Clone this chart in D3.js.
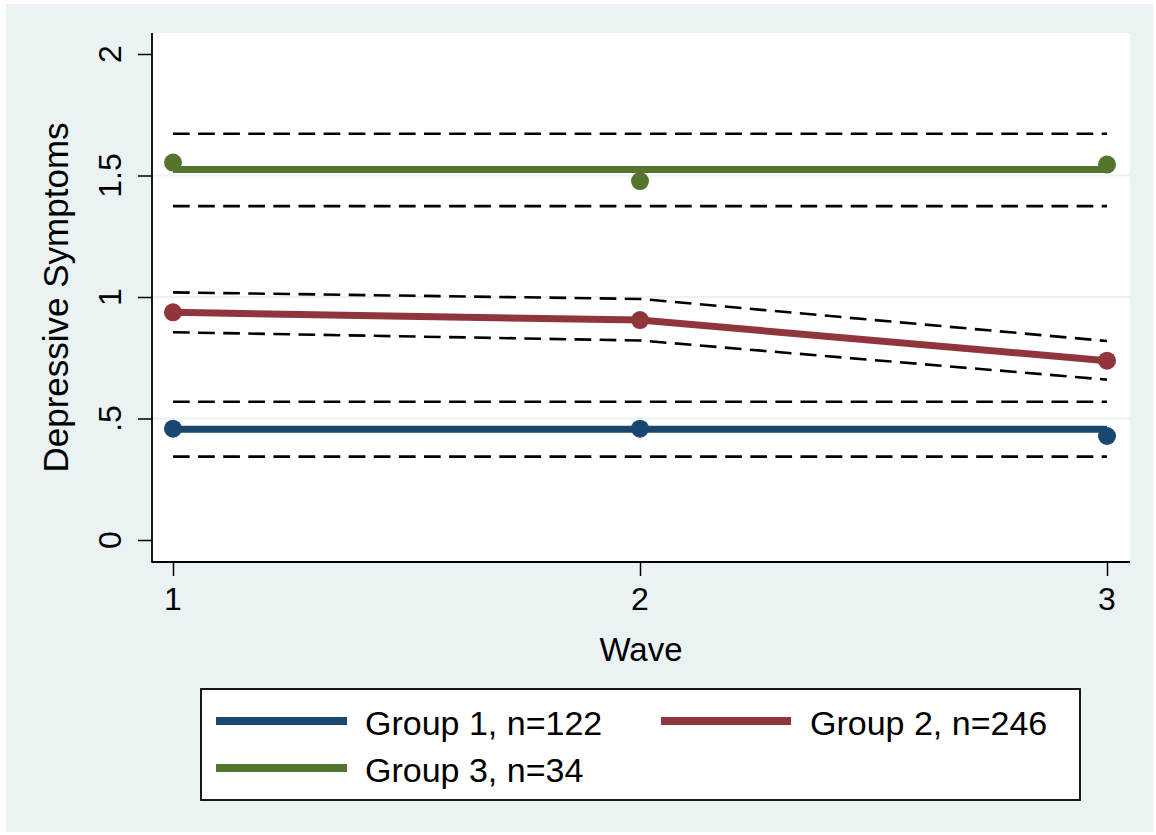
<!DOCTYPE html>
<html>
<head>
<meta charset="utf-8">
<script src="https://cdn.jsdelivr.net/npm/d3@7"></script>
<style>
  html, body { margin: 0; padding: 0; background: #ffffff; }
  svg { display: block; }
  text { font-family: "Liberation Sans", Arial, Helvetica, sans-serif; fill: #000; }
</style>
</head>
<body>
<svg id="chart" width="1156" height="835"></svg>
<script>
// ---- Data ----
const waves = [1, 2, 3];
const yTicks = [0, 0.5, 1, 1.5, 2];
const yTickLabels = ["0", ".5", "1", "1.5", "2"];
const groupNames = ["Group 1, n=122", "Group 2, n=246", "Group 3, n=34"];
const groupColors = ["#1a476f", "#90353b", "#55752f"];

// observed means (points)
const obsG1 = [0.458, 0.458, 0.428];
const obsG2 = [0.937, 0.905, 0.738];
const obsG3 = [1.553, 1.477, 1.545];

// fitted trajectories (solid lines)
const fitG1 = [0.456, 0.456, 0.456];
const fitG2 = [0.937, 0.905, 0.738];
const fitG3 = [1.525, 1.525, 1.525];

// confidence bands (dashed lines)
const upG1 = [0.569, 0.569, 0.569];
const loG1 = [0.343, 0.343, 0.343];
const upG2 = [1.019, 0.992, 0.819];
const loG2 = [0.855, 0.821, 0.660];
const upG3 = [1.672, 1.672, 1.672];
const loG3 = [1.374, 1.374, 1.374];

// ---- Layout ----
const svg = d3.select("#chart");
const W = 1156, H = 835;
const plot = { left: 152, right: 1130, top: 33, bottom: 562 };

// outer background
svg.append("rect").attr("x", 6).attr("y", 4).attr("width", W - 9).attr("height", H - 7)
  .attr("fill", "#eaf2f3");
// plot region
svg.append("rect").attr("x", plot.left).attr("y", plot.top)
  .attr("width", plot.right - plot.left).attr("height", plot.bottom - plot.top)
  .attr("fill", "#ffffff");

const x = d3.scaleLinear().domain([1, 3]).range([173, 1107]);
const y = d3.scaleLinear().domain([0, 2]).range([540, 54]);

// gridlines
svg.append("g").selectAll("line").data([0.5, 1, 1.5]).join("line")
  .attr("x1", plot.left).attr("x2", plot.right)
  .attr("y1", d => y(d)).attr("y2", d => y(d))
  .attr("stroke", "#eaf2f3").attr("stroke-width", 2);

// axes
const yAxis = d3.axisLeft(y).tickValues(yTicks)
  .tickFormat((d, i) => yTickLabels[i]).tickSize(14).tickPadding(0);
const gy = svg.append("g").attr("transform", `translate(${plot.left},0)`).call(yAxis);
gy.select(".domain").remove();
gy.selectAll(".tick line").attr("stroke", "#000").attr("stroke-width", 1.5);
gy.selectAll(".tick text").remove();
svg.append("g").selectAll("text").data(yTicks).join("text")
  .attr("transform", d => `translate(121,${y(d)}) rotate(-90)`)
  .attr("text-anchor", "middle").attr("font-size", 32)
  .text((d, i) => yTickLabels[i]);

const xAxis = d3.axisBottom(x).tickValues(waves).tickFormat(d3.format("d"))
  .tickSize(14).tickPadding(0);
const gx = svg.append("g").attr("transform", `translate(0,${plot.bottom})`).call(xAxis);
gx.select(".domain").remove();
gx.selectAll(".tick line").attr("stroke", "#000").attr("stroke-width", 1.5);
gx.selectAll(".tick text").remove();
svg.append("g").selectAll("text").data(waves).join("text")
  .attr("x", d => x(d)).attr("y", 610)
  .attr("text-anchor", "middle").attr("font-size", 32)
  .text(d => d);

// axis lines
svg.append("line").attr("x1", plot.left).attr("x2", plot.left)
  .attr("y1", plot.top).attr("y2", plot.bottom + 0.75)
  .attr("stroke", "#000").attr("stroke-width", 1.8);
svg.append("line").attr("x1", plot.left).attr("x2", plot.right)
  .attr("y1", plot.bottom).attr("y2", plot.bottom)
  .attr("stroke", "#000").attr("stroke-width", 1.8);

// axis titles
svg.append("text").attr("transform", `translate(68,${(plot.top + plot.bottom) / 2}) rotate(-90)`)
  .attr("text-anchor", "middle").attr("font-size", 35).text("Depressive Symptoms");
svg.append("text").attr("x", (plot.left + plot.right) / 2).attr("y", 661)
  .attr("text-anchor", "middle").attr("font-size", 33).text("Wave");

const line = d3.line().x((d, i) => x(waves[i])).y(d => y(d));

// dashed confidence bands
[upG1, loG1, upG2, loG2, upG3, loG3].forEach(arr => {
  svg.append("path").datum(arr).attr("d", line)
    .attr("fill", "none").attr("stroke", "#000").attr("stroke-width", 2.6)
    .attr("stroke-dasharray", "16.7,8.4");
});

// fitted lines and points
const fits = [fitG1, fitG2, fitG3];
const obs = [obsG1, obsG2, obsG3];
fits.forEach((arr, g) => {
  svg.append("path").datum(arr).attr("d", line)
    .attr("fill", "none").attr("stroke", groupColors[g]).attr("stroke-width", 7);
});
obs.forEach((arr, g) => {
  svg.append("g").selectAll("circle").data(arr).join("circle")
    .attr("cx", (d, i) => x(waves[i])).attr("cy", d => y(d)).attr("r", 9)
    .attr("fill", groupColors[g]);
});

// legend
const lg = svg.append("g");
lg.append("rect").attr("x", 201).attr("y", 689).attr("width", 879).attr("height", 111)
  .attr("fill", "#ffffff").attr("stroke", "#000").attr("stroke-width", 1.8);
const legendPos = [
  { lx1: 216, lx2: 347, ly: 721, tx: 365, ty: 735 },
  { lx1: 661, lx2: 791, ly: 721, tx: 810, ty: 735 },
  { lx1: 216, lx2: 347, ly: 768, tx: 365, ty: 782 }
];
groupNames.forEach((name, g) => {
  const p = legendPos[g];
  lg.append("line").attr("x1", p.lx1).attr("x2", p.lx2).attr("y1", p.ly).attr("y2", p.ly)
    .attr("stroke", groupColors[g]).attr("stroke-width", 8);
  lg.append("text").attr("x", p.tx).attr("y", p.ty).attr("font-size", 34).text(name);
});
</script>
</body>
</html>
